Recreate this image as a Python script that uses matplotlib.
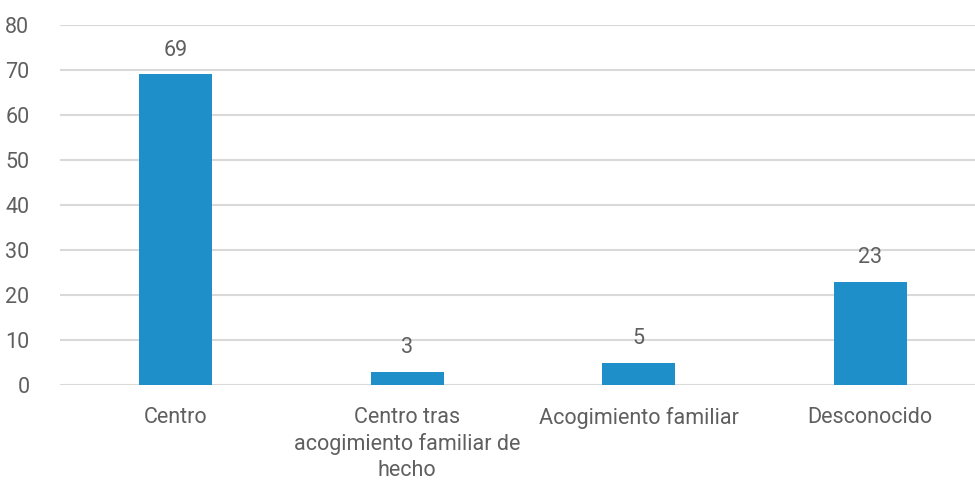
import matplotlib
matplotlib.use("Agg")
import matplotlib.pyplot as plt

categories = ["Centro", "Centro tras\nacogimiento familiar de\nhecho", "Acogimiento familiar", "Desconocido"]
values = [69, 3, 5, 23]
yticks = [0, 10, 20, 30, 40, 50, 60, 70, 80]

plt.rcParams['font.family'] = ['Roboto', 'DejaVu Sans']
text_color = "#5f5f5f"
bar_color = "#1f8fca"
fs = 15.5
fw = "normal"

fig = plt.figure(figsize=(9.75, 4.86), dpi=100)
ax = fig.add_axes([60/975, 101/486, 915/975, 360/486])
x = list(range(len(categories)))
ax.bar(x, values, width=0.315, color=bar_color, zorder=3)
for xi, v in zip(x, values):
    ax.text(xi, v + 3.0, str(v), ha="center", va="bottom", fontsize=fs,
            color=text_color, fontweight=fw)
ax.set_ylim(0, 80)
ax.set_xlim(-0.5, 3.5 - 11/231.5)
ax.set_yticks(yticks)
ax.set_yticklabels([str(t) for t in yticks], fontsize=fs, color=text_color, fontweight=fw)
ax.set_xticks(x)
ax.set_xticklabels(categories, fontsize=fs, color=text_color, fontweight=fw, linespacing=1.3)
ax.tick_params(axis="both", length=0)
ax.tick_params(axis="x", pad=16)
ax.tick_params(axis="y", pad=22)
ax.grid(axis="y", color="#d9d9d9", linewidth=1.5, zorder=0)
for s in ax.spines.values():
    s.set_visible(False)
fig.savefig("out.png", dpi=100)
